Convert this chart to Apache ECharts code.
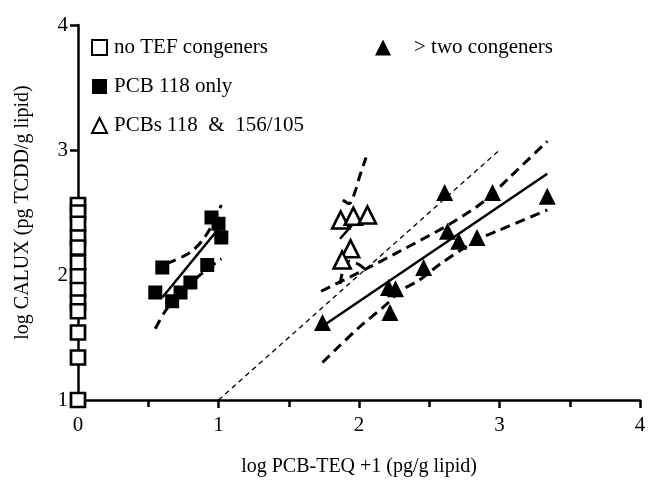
<!DOCTYPE html>
<html>
<head>
<meta charset="utf-8">
<script src="https://cdn.jsdelivr.net/npm/echarts@6/dist/echarts.min.js"></script>
<style>
  html, body {margin: 0; padding: 0; background: #fff;}
  #chart {width: 651px; height: 486px;}
</style>
</head>
<body>
<div id="chart"></div>
<script>
// points: [log PCB-TEQ +1, log CALUX]
var noTefY = [2.56, 2.50, 2.41, 2.30, 2.22, 2.10, 1.99, 1.88, 1.78, 1.71, 1.54, 1.34, 1.00];
var pcb118 = [[0.55, 1.86], [0.60, 2.06], [0.67, 1.79], [0.73, 1.86], [0.80, 1.94], [0.92, 2.08], [0.95, 2.46], [1.00, 2.41], [1.02, 2.30]];
var pcbs156 = [[1.87, 2.44], [1.96, 2.47], [2.06, 2.48], [1.94, 2.21], [1.88, 2.12]];
var twoCong = [[1.74, 1.62], [2.21, 1.90], [2.26, 1.89], [2.22, 1.70], [2.46, 2.06], [2.61, 2.66], [2.63, 2.35], [2.71, 2.27], [2.84, 2.30], [2.95, 2.66], [3.34, 2.63]];

// regression lines and 95% bands
var fit118 = [[0.60, 1.82], [1.00, 2.37]];
var up118 = [[0.63, 2.09], [0.75, 2.15], [0.82, 2.20], [0.88, 2.27], [0.94, 2.37], [1.02, 2.56]];
var lo118 = [[0.55, 1.57], [0.62, 1.71], [0.70, 1.82], [0.80, 1.93], [0.90, 2.03], [1.02, 2.13]];
var fit156 = [[1.865, 2.29], [1.995, 2.455]];
var up156 = [[1.885, 2.60], [1.93, 2.57], [1.97, 2.66], [2.005, 2.79], [2.05, 2.94]];
var lo156 = [[1.865, 1.93], [1.89, 2.05], [1.93, 2.11], [1.99, 2.09], [2.04, 2.05]];
var fitTwo = [[1.74, 1.59], [3.34, 2.81]];
var upTwo = [[1.73, 1.87], [2.00, 2.02], [2.29, 2.19], [2.65, 2.41], [2.89, 2.59], [3.08, 2.79], [3.34, 3.07]];
var loTwo = [[1.74, 1.30], [1.84, 1.41], [2.00, 1.58], [2.20, 1.77], [2.29, 1.87], [2.43, 1.96], [2.58, 2.09], [2.84, 2.28], [3.00, 2.36], [3.34, 2.52]];
var refLine = [[1, 1], [3, 3]];

var labels = ['no TEF congeners', 'PCB 118 only', 'PCBs 118  &  156/105', '> two congeners'];
var font = 'Liberation Serif';

var chart = echarts.init(document.getElementById('chart'));

function fitLine(data) {
  return {type: 'line', data: data, symbol: 'none', silent: true, z: 2,
    lineStyle: {color: '#000', width: 2.5}};
}
function bandLine(data) {
  return {type: 'line', data: data, symbol: 'none', silent: true, smooth: 0.3, z: 2,
    lineStyle: {color: '#000', width: 3, type: [10, 6]}};
}

var openStyle = {color: '#fff', borderColor: '#000', borderWidth: 2.7, opacity: 1};
var fillStyle = {color: '#000', opacity: 1};

chart.setOption({
  animation: false,
  grid: {left: 78, right: 11, top: 25, bottom: 86},
  legend: [
    {left: 91, top: 37, padding: 0, orient: 'vertical', itemWidth: 15, itemHeight: 15, itemGap: 18,
      data: labels.slice(0, 3), selectedMode: false,
      textStyle: {fontFamily: font, fontSize: 21, color: '#000', padding: [0, 0, 0, 2]}},
    {left: 375, top: 37, padding: 0, itemWidth: 16, itemHeight: 16,
      data: [labels[3]], selectedMode: false,
      textStyle: {fontFamily: font, fontSize: 21, color: '#000', padding: [0, 0, 0, 18]}}
  ],
  xAxis: {
    type: 'value', min: 0, max: 4, interval: 1,
    name: 'log PCB-TEQ +1 (pg/g lipid)', nameLocation: 'middle', nameGap: 57,
    nameTextStyle: {fontFamily: font, fontSize: 20, color: '#000'},
    axisLine: {lineStyle: {color: '#000', width: 2.5}},
    axisTick: {length: 8, lineStyle: {color: '#000', width: 2.5}},
    minorTick: {show: true, splitNumber: 2, length: 7, lineStyle: {color: '#000', width: 2.5}},
    axisLabel: {margin: 15, fontFamily: font, fontSize: 21, color: '#000'},
    splitLine: {show: false}
  },
  yAxis: {
    type: 'value', min: 1, max: 4, interval: 1,
    name: 'log CALUX (pg TCDD/g lipid)', nameLocation: 'middle', nameGap: 45,
    nameTextStyle: {fontFamily: font, fontSize: 20, color: '#000'},
    axisLine: {lineStyle: {color: '#000', width: 2.5}},
    axisTick: {length: 8, lineStyle: {color: '#000', width: 2.5}},
    axisLabel: {margin: 10, fontFamily: font, fontSize: 21, color: '#000'},
    splitLine: {show: false}
  },
  series: [
    {name: labels[0], type: 'scatter', symbol: 'rect', symbolSize: 14, clip: false, z: 5,
      itemStyle: openStyle, data: noTefY.map(function (y) { return [0, y]; })},
    {name: labels[1], type: 'scatter', symbol: 'rect', symbolSize: 14, clip: false, z: 5,
      itemStyle: fillStyle, data: pcb118},
    {name: labels[2], type: 'scatter', symbol: 'triangle', symbolSize: 17, clip: false, z: 5,
      itemStyle: openStyle, data: pcbs156},
    {name: labels[3], type: 'scatter', symbol: 'triangle', symbolSize: 17, clip: false, z: 5,
      itemStyle: fillStyle, data: twoCong},
    fitLine(fit118), bandLine(up118), bandLine(lo118),
    fitLine(fit156), bandLine(up156), bandLine(lo156),
    fitLine(fitTwo), bandLine(upTwo), bandLine(loTwo),
    {type: 'line', data: refLine, symbol: 'none', silent: true, z: 1,
      lineStyle: {color: '#000', width: 1.3, type: [5, 4]}}
  ]
});
</script>
</body>
</html>
